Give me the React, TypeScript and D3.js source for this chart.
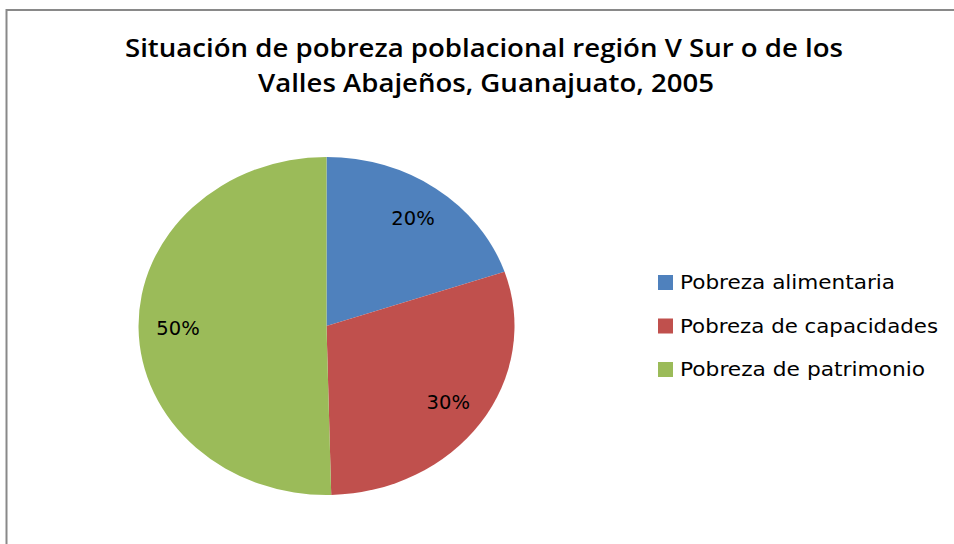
import React from "react";
import * as d3 from "d3";

const categories = ["Pobreza alimentaria", "Pobreza de capacidades", "Pobreza de patrimonio"];
const values = [19.8, 29.8, 50.4];
const colors = ["#4F81BD", "#C0504D", "#9BBB59"];
const titleLines = ["Situación de pobreza poblacional  región V Sur o de los", "Valles Abajeños, Guanajuato, 2005"];

const W = 954;
const H = 544;

export default function App() {
  const cx = 326.5;
  const cy = 326;
  const r = 169;
  const sx = 188 / 169;

  const total = d3.sum(values);
  const pie = d3.pie<number>().sort(null).value((d) => d).startAngle(0).endAngle(2 * Math.PI);
  const arcs = pie(values);
  const arc = d3.arc<d3.PieArcDatum<number>>().innerRadius(0).outerRadius(r);
  const labelArc = d3.arc<d3.PieArcDatum<number>>().innerRadius(r * 0.79).outerRadius(r * 0.79);

  const legendY = d3.scalePoint<string>().domain(categories).range([282.5, 369.5]);
  const legendWidths = [215, 258, 245];

  return (
    <svg width={W} height={H} style={{ position: "absolute", left: 0, top: 0, background: "#fff" }}>
      <rect x={0} y={0} width={W} height={H} fill="#fff" />
      <path d={`M6.5,${H} V10 H${W}`} fill="none" stroke="#898989" strokeWidth={2} />
      <g fontFamily="'Open Sans', 'Noto Sans', sans-serif" fontWeight={600} fontSize={25} fill="#000" textAnchor="middle">
        <text x={484} y={57} textLength={718} lengthAdjust="spacingAndGlyphs">{titleLines[0]}</text>
        <text x={486} y={92} textLength={456} lengthAdjust="spacingAndGlyphs">{titleLines[1]}</text>
      </g>
      <g transform={`translate(${cx},${cy}) scale(${sx},1)`}>
        {arcs.map((a, i) => (
          <path key={i} d={arc(a) || ""} fill={colors[i]} />
        ))}
      </g>
      <g fontFamily="'DejaVu Sans', Verdana, sans-serif" fontSize={19.5} fill="#000" textAnchor="middle">
        {arcs.map((a, i) => {
          const [lx, ly] = labelArc.centroid(a);
          return (
            <text key={i} x={cx + lx * sx} y={cy + ly} dy="0.36em">
              {`${Math.round((values[i] / total) * 100)}%`}
            </text>
          );
        })}
      </g>
      <g fontFamily="'DejaVu Sans', Verdana, sans-serif" fontSize={19} fill="#000">
        {categories.map((c, i) => {
          const y = legendY(c) as number;
          return (
            <g key={c}>
              <rect x={658} y={y - 7.5} width={15} height={15} fill={colors[i]} />
              <text x={680} y={y} dy="0.36em" textLength={legendWidths[i]} lengthAdjust="spacingAndGlyphs">{c}</text>
            </g>
          );
        })}
      </g>
    </svg>
  );
}
